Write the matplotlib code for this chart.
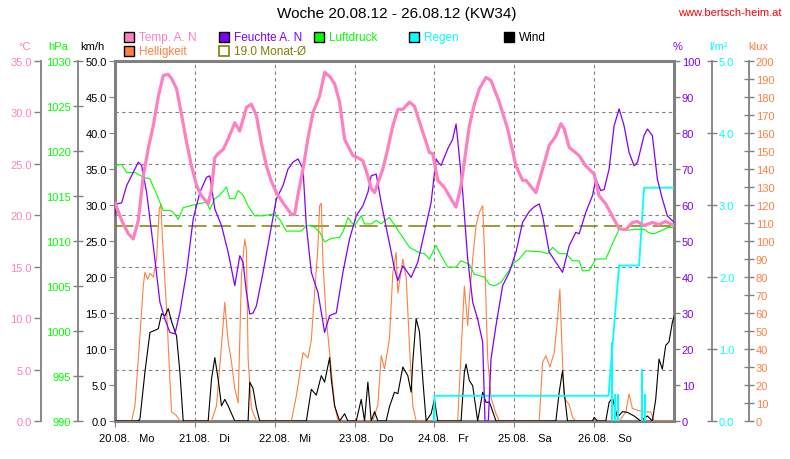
import matplotlib
matplotlib.use('Agg')
import matplotlib.pyplot as plt
from matplotlib.patches import Rectangle
from matplotlib.ticker import FormatStrFormatter
from matplotlib.transforms import ScaledTranslation

plt.rcParams['font.family'] = ['Liberation Sans', 'DejaVu Sans']
plt.rcParams['font.size'] = 8

# --- data (x = hours since 20.08. 00:00) ---
day_ticks = [0, 24, 48, 72, 96, 120, 144]
day_labels = ['20.08.   Mo', '21.08.   Di', '22.08.   Mi', '23.08.   Do',
              '24.08.   Fr', '25.08.   Sa', '26.08.   So']

temp_h = [0, 2, 4, 5.5, 7, 8.5, 10, 11.5, 13, 14.5, 16, 17, 18.5, 20, 21.5, 23, 24.5, 26, 28, 29,
          30, 31, 32.5, 34, 36, 37.5, 39.5, 41, 42.5, 44, 45.5, 47, 48.5, 50.5, 53, 54, 55, 56.5,
          58, 59.5, 61.5, 63, 64.5, 66, 67.5, 69, 71.5, 73, 74.5, 76, 77, 78, 80.5, 82, 83.5, 85,
          86.5, 88.5, 90, 92.5, 94.5, 95.5, 97, 99, 101, 102.5, 104, 106.5, 108, 109.5, 111.5, 113,
          115.5, 118, 120.5, 122.5, 123.5, 125.5, 126.5, 128.5, 130.5, 132.5, 134, 135, 136.5,
          139.5, 141.5, 144, 145.5, 147.5, 150, 151.5, 153.5, 155.5, 157, 159, 161.5, 163.5, 165.5, 168]
temp = [21.2, 19.5, 18.2, 17.7, 19.5, 23.8, 26.5, 28.7, 31.5, 33.6, 33.7, 33.3, 32.3, 29.8, 27.1,
        24.8, 22.9, 21.9, 21.1, 22.5, 25.6, 26.0, 26.4, 27.4, 29.0, 28.2, 30.5, 30.8, 29.7, 27.0,
        24.8, 23.3, 22.2, 21.2, 20.1, 20.1, 22.0, 24.5, 27.5, 30.0, 31.6, 33.9, 33.5, 32.8, 31.0,
        27.4, 25.8, 25.6, 25.3, 23.8, 22.6, 22.2, 24.5, 26.5, 28.7, 30.3, 30.3, 31.0, 30.6, 28.1,
        26.1, 26.0, 23.4, 22.7, 21.6, 20.8, 22.9, 28.7, 30.8, 32.3, 33.4, 33.1, 31.0, 28.4, 24.8,
        23.4, 23.4, 22.6, 22.2, 24.5, 26.8, 27.7, 28.9, 28.4, 26.6, 25.8, 24.8, 24.0, 21.9, 21.1,
        19.6, 18.7, 18.6, 19.3, 19.4, 19.0, 19.3, 19.1, 19.4, 19.0]

hum_h = [0, 0.5, 2, 3.5, 5.5, 7, 8, 9.5, 11.5, 13.5, 15, 16.5, 18, 19.5, 21.5, 23.5, 25.5, 27.5,
         28.5, 30, 32, 34, 36, 37.5, 38.5, 39.5, 40.5, 41.5, 42.5, 44.5, 46.5, 48.5, 50.5, 52, 53.5,
         55, 56.5, 57.5, 59, 61, 62, 63, 64.5, 66.5, 68.5, 70.5, 72.5, 74.5, 76, 77, 78.5, 80, 82,
         83, 84, 85, 86.5, 89, 91, 93, 95, 96.5, 97, 98, 100, 101.5, 102.5, 103, 104.5, 106, 107.5,
         109, 110.5, 111.2, 112.2, 113, 114.5, 116.5, 118.5, 120.5, 122.5, 124.5, 126, 127.5, 128.5,
         130.5, 132.5, 134.5, 136.5, 138.5, 139.5, 141.5, 143.5, 144.5, 146, 147, 148.5, 150, 151.5,
         153, 154.5, 156, 157, 159, 160, 161.5, 163, 164.5, 166, 168]
hum = [57.0, 60.3, 60.6, 65.4, 69.1, 71.9, 71.0, 63.5, 48.7, 33.0, 28.3, 24.6, 24.2, 30.2, 41.3,
       56.1, 63.5, 67.7, 68.1, 58.9, 54.3, 46.9, 37.6, 45.9, 44.0, 35.7, 29.7, 30.0, 32.0, 41.3,
       51.5, 61.7, 65.4, 70.0, 71.9, 72.8, 70.0, 54.3, 41.3, 35.7, 30.2, 24.6, 29.3, 30.0, 41.3,
       50.6, 57.0, 59.8, 63.5, 68.1, 68.6, 60.7, 51.5, 47.0, 42.2, 39.0, 43.1, 39.9, 44.1, 52.4,
       60.7, 72.8, 72.0, 71.0, 75.6, 78.3, 82.5, 78.0, 63.5, 45.0, 33.0, 28.3, 21.9, 0.0, 0.0,
       17.2, 26.5, 37.6, 41.3, 46.9, 55.2, 58.2, 59.5, 60.3, 57.0, 46.9, 44.1, 41.3, 48.7, 52.4,
       52.0, 58.0, 62.6, 67.2, 64.0, 64.3, 70.0, 82.0, 86.7, 82.0, 74.6, 70.9, 71.8, 79.3, 81.1,
       79.3, 67.2, 61.7, 57.0, 55.2]

press_h = [0, 2, 3.5, 6, 8.5, 10.5, 12.5, 14.5, 16.5, 17.5, 19, 20.5, 22.5, 24.5, 27.5, 28.5, 30,
           31.5, 33.5, 34.5, 36, 37, 38.5, 40, 42, 44.5, 47.5, 49.5, 51.5, 56, 57.5, 59.5, 61.5, 63,
           65, 67.5, 68.5, 70, 71, 72, 74, 75, 77, 78.5, 80, 81.5, 82.5, 84.5, 86.5, 88.5, 91.5, 93,
           94.5, 96.5, 98, 100, 102.5, 104, 106.5, 108, 111, 112.5, 114, 116, 118, 120, 121.5,
           123.5, 128, 130, 131.5, 133.5, 135.5, 137.5, 139.5, 140.5, 142.5, 144.5, 147.5, 149.5,
           151.5, 154, 156.5, 159, 160.5, 162, 164.5, 166, 168]
press = [1018.4, 1018.5, 1017.6, 1017.6, 1017.1, 1016.9, 1015.2, 1013.4, 1013.4, 1013.2, 1012.4,
         1013.7, 1013.9, 1014.1, 1014.3, 1013.5, 1014.7, 1015.1, 1016.0, 1014.7, 1014.7, 1015.6,
         1015.1, 1013.9, 1012.8, 1012.8, 1013.0, 1012.4, 1011.1, 1011.1, 1011.7, 1011.7, 1011.0,
         1009.9, 1010.3, 1010.4, 1011.0, 1012.6, 1012.1, 1011.7, 1012.8, 1011.9, 1011.9, 1012.3,
         1011.9, 1012.4, 1012.6, 1011.5, 1010.4, 1009.3, 1008.7, 1008.6, 1008.0, 1009.5, 1008.4,
         1007.1, 1007.1, 1007.8, 1007.4, 1006.3, 1006.0, 1005.2, 1005.0, 1005.4, 1006.5, 1007.6,
         1008.0, 1008.9, 1008.8, 1008.6, 1009.3, 1008.6, 1008.6, 1007.8, 1007.8, 1006.7, 1006.7,
         1008.0, 1008.0, 1009.7, 1011.3, 1011.2, 1011.3, 1011.3, 1010.9, 1010.8, 1011.2, 1011.5, 1011.5]

wind_h = [0, 7, 7.5, 9, 10.5, 13, 14, 15, 16, 17, 18.5, 19.5, 20.5, 28, 29, 30, 31, 32, 33, 34, 36,
          40, 40.5, 41.5, 42.5, 43.5, 57.5, 59, 60.5, 62, 63, 64.5, 65, 66, 67.5, 69, 70, 72.5, 74,
          75, 76, 77, 78, 79, 81.5, 82.5, 84, 85, 86.5, 88, 89, 89.5, 90.5, 91.5, 92.5, 93.5, 95, 96,
          97, 104, 105, 105.5, 106.5, 107.5, 109, 110.5, 111.5, 112.5, 113, 114.5, 132.5, 133.5,
          134.5, 135, 136, 143.5, 144, 145, 147.5, 148.5, 149.5, 151, 152.5, 154, 156, 158, 160,
          161.5, 162.5, 163.5, 164.5, 165.5, 166.5, 167.5, 168]
wind = [0, 0, 0.3, 6.8, 12.3, 12.8, 14.9, 14.6, 15.6, 13.8, 11.8, 6.8, 0, 0, 5.8, 8.8, 5.8, 2.1,
        3.0, 2.1, 0, 0, 5.4, 4.5, 1.8, 0, 0, 4.4, 3.6, 6.3, 5.4, 8.8, 5.8, 2.1, 0, 1.0, 0, 0, 3.0,
        0, 5.4, 0, 1.3, 0, 0, 2.0, 4.0, 3.8, 7.5, 6.3, 4.0, 8.2, 14.2, 12.4, 5.8, 0, 1.0, 3.0, 0, 0,
        6.8, 7.9, 5.6, 4.9, 0, 4.0, 2.6, 2.6, 2.0, 0, 0, 4.0, 7.0, 4.0, 0, 0, 0.5, 0, 0, 2.6, 3.2,
        0.5, 1.3, 1.2, 0.7, 0, 0.7, 0, 3.0, 8.6, 7.2, 10.5, 11.0, 13.7, 14.5]

light_h = [0, 5, 6, 7.5, 8.5, 9, 9.8, 10.5, 11.5, 12.5, 13.3, 13.8, 14.3, 15.5, 16.5, 17, 18.5, 19.5,
           29, 30.5, 32, 33, 34, 35, 36, 37, 38, 39, 39.5, 40, 41, 42.5, 53, 54.5, 56.5, 58, 59, 60,
           61, 61.5, 62, 62.5, 63.5, 64.5, 66, 67, 77.5, 79, 80, 81, 82.5, 83.5, 84.5, 85, 86.5,
           87.5, 88.5, 89.5, 90.5, 103, 104, 105, 106, 106.5, 107.5, 108.5, 109.5, 110.5, 111, 112,
           113, 114.5, 115.5, 127.5, 128.5, 129.5, 130.7, 132, 133, 133.7, 134.5, 135, 136.5, 137.5,
           138.5, 151.5, 153.5, 154.5, 155.5, 157, 159, 161, 162, 168]
light = [0, 0, 8.5, 47.4, 75.2, 82.6, 78.7, 82.0, 80.0, 90.0, 117.8, 120.5, 100.0, 62.0, 23.0, 5.0,
         3.0, 0, 0, 8.5, 41.8, 66.0, 44.0, 33.0, 17.8, 10.0, 80.7, 101.0, 95.0, 35.0, 7.0, 0, 0,
         14.0, 38.0, 35.0, 45.0, 71.5, 97.0, 119.6, 121.0, 88.0, 56.7, 38.0, 9.0, 0, 0, 9.0, 36.3,
         29.0, 46.0, 82.6, 93.7, 71.0, 90.0, 80.0, 41.8, 8.5, 0, 0, 38.0, 75.0, 53.0, 68.0, 90.0,
         108.5, 116.0, 119.6, 97.0, 35.0, 13.0, 4.0, 0, 0, 32.6, 36.3, 30.0, 38.0, 56.7, 73.3, 32.6,
         13.0, 9.0, 2.0, 0, 0, 5.0, 15.0, 7.0, 6.0, 5.0, 5.0, 0, 0]

rain_h = [96, 96, 148.3, 151.5, 157.5, 159, 168]
rain = [0, 0.35, 0.35, 2.16, 2.16, 3.24, 3.24]
rain_bar_h = [96.0, 149.5, 150.3, 151.2, 158.3, 159.3]
rain_bar = [0.2, 1.1, 0.37, 0.37, 0.72, 0.37]

month_avg = 19.0

PINK = '#FF80C0'
PURPLE = '#8000FF'
GREEN = '#00FF00'
CYAN = '#00FFFF'
ORANGE = '#FF8040'
OLIVE = '#808000'
GRAY = '#808080'

W, H = 790, 460
fig = plt.figure(figsize=(W / 100, H / 100), dpi=100)
fig.patch.set_facecolor('white')

ax = fig.add_axes([115 / W, 1 - 422 / H, 559 / W, 360 / H])
ax.set_xlim(0, 168)
ax.set_ylim(0, 50)
ax.set_xticks(day_ticks, day_labels)
ax.set_yticks(range(0, 51, 5))
ax.yaxis.set_major_formatter(FormatStrFormatter('%.1f'))
ax.tick_params(axis='x', length=4, color=GRAY, pad=5, labelsize=8)
ax.tick_params(axis='y', length=4, color=GRAY, pad=2, labelsize=8)
for lab in ax.get_xticklabels():
    lab.set_horizontalalignment('left')
    lab.set_transform(lab.get_transform() + ScaledTranslation(-0.16, 0, fig.dpi_scale_trans))
ax.grid(axis='x', color=GRAY, lw=0.8, dashes=(3, 3))
for s in ax.spines.values():
    s.set_color(GRAY)
    s.set_linewidth(2.2)


def side_axis(lim, ticks, fmt, color, side, pos, direction, length):
    a = ax.twinx()
    a.set_ylim(*lim)
    a.set_xlim(0, 168)
    for s in a.spines.values():
        s.set_visible(False)
    if side == 'left':
        a.yaxis.tick_left()
    else:
        a.yaxis.tick_right()
    if ticks is None:
        a.set_yticks([])
        return a
    a.set_yticks(ticks)
    a.yaxis.set_major_formatter(FormatStrFormatter(fmt))
    if pos is not None:
        sp = a.spines[side]
        sp.set_visible(True)
        sp.set_position(('axes', pos))
        sp.set_color(GRAY)
        sp.set_linewidth(1.3)
    a.tick_params(axis='y', color=GRAY, labelcolor=color, direction=direction,
                  length=length, width=1, pad=1.5, labelsize=8)
    return a


# temperature scale with horizontal grid and monthly average
ax_t = side_axis((0, 35), range(0, 36, 5), '%.1f', PINK, 'left', -0.1324, 'out', 5)
ax_t.grid(axis='y', color=GRAY, lw=0.8, dashes=(3, 3))
ax_t.axhline(month_avg, color=OLIVE, lw=1.1, dashes=(12, 4))

ax_k = side_axis((0, 200), range(0, 201, 10), '%d', ORANGE, 'right', 1.134, 'inout', 7)
ax_k.plot(light_h, light, color=ORANGE, lw=0.8)

ax_w = side_axis((0, 50), None, None, 'black', 'left', None, 'out', 0)
ax_w.plot(wind_h, wind, color='black', lw=0.8)

ax_r = side_axis((0, 5), range(0, 6), '%.1f', CYAN, 'right', 1.068, 'inout', 7)
ax_r.bar(rain_bar_h, rain_bar, width=0.6, color=CYAN)
ax_r.plot(rain_h, rain, color=CYAN, lw=1.3)

ax_p = side_axis((990, 1030), range(990, 1031, 5), '%d', GREEN, 'left', -0.0662, 'inout', 7)
ax_p.plot(press_h, press, color=GREEN, lw=0.8)

ax_h = side_axis((0, 100), range(0, 101, 10), '%d', PURPLE, 'right', None, 'out', 4)
ax_h.plot(hum_h, hum, color=PURPLE, lw=0.9)

ax_tl = side_axis((0, 35), None, None, PINK, 'left', None, 'out', 0)
ax_tl.plot(temp_h, temp, color=PINK, lw=2.3)

# header texts
fig.text(397 / W, 1 - 14 / H, 'Woche 20.08.12 - 26.08.12 (KW34)', ha='center', va='center', fontsize=11)
fig.text(782 / W, 1 - 13 / H, 'www.bertsch-heim.at', ha='right', va='center', fontsize=8, color='red')

units = [('°C', 25, PINK), ('hPa', 58, GREEN), ('km/h', 92, 'black'),
         ('%', 678, PURPLE), ('l/m²', 719, CYAN), ('klux', 758, ORANGE)]
for txt, x, c in units:
    fig.text(x / W, 1 - 47 / H, txt, ha='center', va='center', fontsize=8, color=c)

legend = [('Temp. A. N', 124, 38, PINK, PINK), ('Feuchte A. N', 219, 38, PURPLE, PURPLE),
          ('Luftdruck', 314, 38, GREEN, GREEN), ('Regen', 409, 38, CYAN, CYAN),
          ('Wind', 504, 38, 'black', 'black'), ('Helligkeit', 124, 52, ORANGE, ORANGE),
          ('19.0 Monat-Ø', 219, 52, None, OLIVE)]
for txt, x, y, fc, tc in legend:
    if fc is None:
        sq = Rectangle((x / W, 1 - (y + 5) / H), 10 / W, 10 / H, transform=fig.transFigure,
                       facecolor='white', edgecolor=OLIVE, lw=1.2)
    else:
        sq = Rectangle((x / W, 1 - (y + 5) / H), 10 / W, 10 / H, transform=fig.transFigure,
                       facecolor=fc, edgecolor='black', lw=1)
    fig.patches.append(sq)
    fig.text((x + 15) / W, 1 - y / H, txt, ha='left', va='center', fontsize=8.5, color=tc)

fig.savefig('out.png', dpi=100)
